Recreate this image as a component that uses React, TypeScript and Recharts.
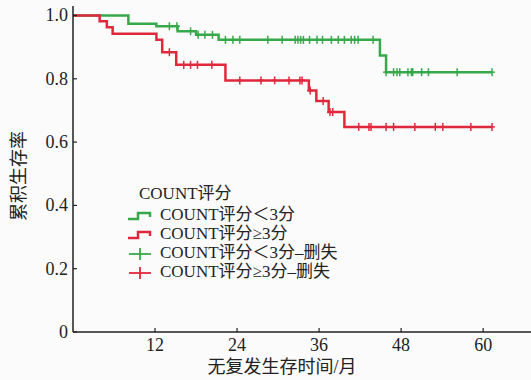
import React from 'react';
import { ComposedChart, Line, Scatter, XAxis, YAxis, Legend, Label } from 'recharts';

// step points of the Kaplan-Meier curves (months, survival)
const lowTimes = [0, 8.1, 12.2, 15.3, 18.0, 21.3, 44.9, 45.8, 61.3];
const lowSurv = [1, 0.974, 0.966, 0.95, 0.939, 0.923, 0.874, 0.821, 0.821];
const highTimes = [0, 3.9, 4.95, 5.8, 12.2, 13.05, 15.1, 22.3, 34.5, 35.6, 37.4, 39.7, 61.3];
const highSurv = [1, 0.982, 0.963, 0.942, 0.923, 0.884, 0.844, 0.795, 0.763, 0.73, 0.695, 0.648, 0.648];

// censored observations (months)
const lowCensor = [
    14.1, 15.2, 17.2, 18.3, 19.3, 20.4, 22.3, 23.4, 24.4, 28.5, 30.6, 32.5, 32.9, 33.3, 33.7, 34.6, 35.7, 36.5,
    37.8, 38.8, 39.7, 40.7, 41.2, 41.7, 43.9, 45.8, 46.9, 47.4, 47.8, 49.0, 49.5, 49.7, 51.0, 52.0, 56.2, 61.3,
];
const highCensor = [
    14.1, 16.2, 17.2, 18.2, 20.3, 24.4, 27.5, 29.5, 31.6, 33.2, 33.5, 34.7, 36.6, 37.6, 38.0, 41.8, 43.3, 43.6,
    45.8, 46.9, 50.0, 53.0, 54.1, 58.2, 61.3,
];

const xTicks = [12, 24, 36, 48, 60];
const yTicks = [0, 0.2, 0.4, 0.6, 0.8, 1.0];

const legendTitle = 'COUNT评分';
const seriesNames = ['COUNT评分＜3分', 'COUNT评分≥3分', 'COUNT评分＜3分–删失', 'COUNT评分≥3分–删失'];

const GREEN = '#38a94a';
const RED = '#e0283c';
const FONT = '"Liberation Serif", "Times New Roman", "Noto Sans CJK SC", serif';

const survAt = (times: number[], surv: number[], t: number) => {
    let v = surv[0];
    times.forEach((tt, i) => {
        if (tt <= t) v = surv[i];
    });
    return v;
};

const lowCurve = lowTimes.map((t, i) => ({ t, s: lowSurv[i] }));
const highCurve = highTimes.map((t, i) => ({ t, s: highSurv[i] }));
const lowMarks = lowCensor.map((t) => ({ t, s: survAt(lowTimes, lowSurv, t) }));
const highMarks = highCensor.map((t) => ({ t, s: survAt(highTimes, highSurv, t) }));

const cross = (color: string) => (props: any) => {
    const { cx, cy } = props;
    return (
        <g stroke={color} strokeWidth={1.5}>
            <line x1={cx} x2={cx} y1={cy - 4} y2={cy + 4} />
            <line x1={cx - 3} x2={cx + 3} y1={cy} y2={cy} />
        </g>
    );
};

const XTick = (props: any) => {
    const { x, y, payload } = props;
    return (
        <g>
            <line x1={x} x2={x} y1={y - 4} y2={y} stroke='#222' strokeWidth={1.2} />
            <text x={x} y={y + 19} textAnchor='middle' fontSize={18} fontFamily={FONT} fill='#222'>
                {payload.value}
            </text>
        </g>
    );
};

const YTick = (props: any) => {
    const { x, y, payload } = props;
    const v = payload.value;
    return (
        <g>
            <line x1={x + 5} x2={x + 9} y1={y} y2={y} stroke='#222' strokeWidth={1.2} />
            <text x={x} y={y + 6} textAnchor='end' fontSize={18} fontFamily={FONT} fill='#222'>
                {v === 0 ? '0' : v.toFixed(1)}
            </text>
        </g>
    );
};

const stepIcon = (color: string) => (
    <svg width={26} height={12} style={{ verticalAlign: 'middle', marginRight: 7 }}>
        <path d='M1,9 H11 V3 H23 V7' fill='none' stroke={color} strokeWidth={2.5} />
    </svg>
);

const crossIcon = (color: string) => (
    <svg width={26} height={12} style={{ verticalAlign: 'middle', marginRight: 7 }}>
        <line x1={2} x2={24} y1={6} y2={6} stroke={color} strokeWidth={1.8} />
        <line x1={13} x2={13} y1={0} y2={12} stroke={color} strokeWidth={1.8} />
    </svg>
);

const renderLegend = () => {
    const icons = [stepIcon(GREEN), stepIcon(RED), crossIcon(GREEN), crossIcon(RED)];
    return (
        <div style={{ fontFamily: FONT, fontSize: 17, color: '#222', lineHeight: '19px' }}>
            <div style={{ paddingLeft: 12, marginBottom: 2, whiteSpace: 'nowrap' }}>{legendTitle}</div>
            {seriesNames.map((name, i) => (
                <div key={name} style={{ height: 19, whiteSpace: 'nowrap' }}>
                    {icons[i]}
                    {name}
                </div>
            ))}
        </div>
    );
};

export default function App() {
    return (
        <div style={{ position: 'absolute', left: 0, top: 0, width: 531, height: 380, background: '#fbfbfb' }}>
            <ComposedChart width={531} height={380} margin={{ top: 6, right: 0, bottom: 0, left: 0 }}>
                <XAxis
                    dataKey='t'
                    type='number'
                    domain={[0, 67]}
                    ticks={xTicks}
                    tick={<XTick />}
                    tickLine={false}
                    tickSize={0}
                    tickMargin={0}
                    height={48}
                    axisLine={{ stroke: '#222', strokeWidth: 1.5 }}
                    allowDataOverflow
                >
                    <Label
                        content={() => (
                            <text x={282} y={373} textAnchor='middle' fontSize={18} fontFamily={FONT} fill='#222'>
                                无复发生存时间/月
                            </text>
                        )}
                    />
                </XAxis>
                <YAxis
                    type='number'
                    domain={[0, 1.03]}
                    ticks={yTicks}
                    tick={<YTick />}
                    tickLine={false}
                    tickSize={0}
                    tickMargin={5}
                    width={73}
                    axisLine={{ stroke: '#222', strokeWidth: 1.5 }}
                    allowDataOverflow
                >
                    <Label
                        content={() => (
                            <text
                                transform='translate(25,176) rotate(-90)'
                                textAnchor='middle'
                                fontSize={18}
                                fontFamily={FONT}
                                fill='#222'
                            >
                                累积生存率
                            </text>
                        )}
                    />
                </YAxis>
                <Line
                    data={lowCurve}
                    dataKey='s'
                    type='stepAfter'
                    stroke={GREEN}
                    strokeWidth={2.5}
                    dot={false}
                    activeDot={false}
                    isAnimationActive={false}
                    legendType='none'
                />
                <Line
                    data={highCurve}
                    dataKey='s'
                    type='stepAfter'
                    stroke={RED}
                    strokeWidth={2.5}
                    dot={false}
                    activeDot={false}
                    isAnimationActive={false}
                    legendType='none'
                />
                <Scatter data={lowMarks} dataKey='s' shape={cross(GREEN)} isAnimationActive={false} legendType='none' />
                <Scatter data={highMarks} dataKey='s' shape={cross(RED)} isAnimationActive={false} legendType='none' />
                <Legend
                    layout='vertical'
                    align='center'
                    verticalAlign='middle'
                    content={renderLegend}
                    wrapperStyle={{ position: 'absolute', left: 127, top: 184, width: 280 }}
                />
            </ComposedChart>
        </div>
    );
}
